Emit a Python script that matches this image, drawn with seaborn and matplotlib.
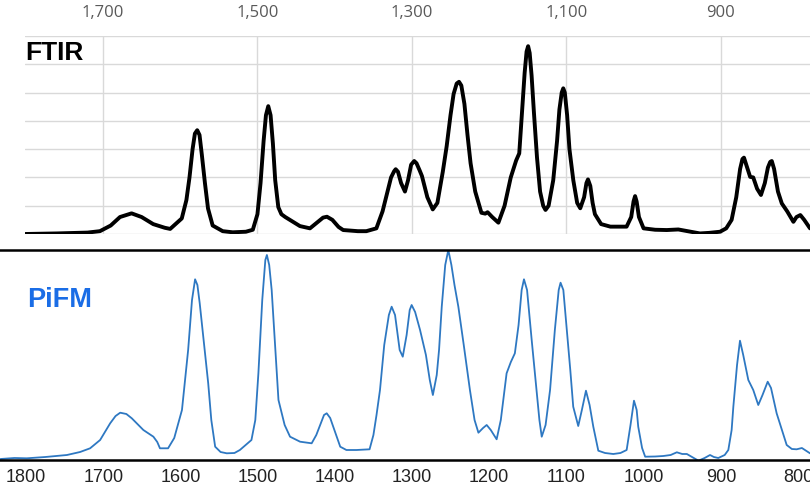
import numpy as np
import pandas as pd
import matplotlib
matplotlib.use("Agg")
import matplotlib.pyplot as plt
import seaborn as sns

# FTIR spectrum (wavenumber, absorbance in grid units)
ftir_wn = [1801, 1760, 1720, 1704, 1690, 1678, 1663, 1650, 1635, 1620, 1613, 1604, 1598,
           1592, 1588, 1584, 1581, 1578, 1575, 1572, 1568, 1564, 1558, 1545, 1532, 1515,
           1506, 1500, 1496, 1492, 1489, 1486, 1483, 1480, 1477, 1473, 1469, 1464, 1458,
           1445, 1432, 1423, 1415, 1410, 1403, 1395, 1389, 1370, 1359, 1346, 1338, 1333,
           1327, 1323, 1321, 1318, 1314, 1309, 1305, 1301, 1297, 1294, 1290, 1287, 1280,
           1273, 1267, 1260, 1255, 1250, 1246, 1242, 1239, 1236, 1232, 1228, 1224, 1218,
           1210, 1205, 1202, 1196, 1188, 1180, 1172, 1165, 1161, 1157, 1154, 1151.5, 1149.5,
           1147.5, 1145, 1142, 1138, 1134, 1130, 1127, 1123, 1117, 1112, 1109, 1106, 1104,
           1102, 1099, 1096, 1091, 1086, 1082, 1077, 1074, 1072, 1069, 1066, 1063, 1055,
           1043, 1022, 1016, 1013, 1011, 1009, 1006, 1000, 985, 970, 955, 945, 927, 915,
           901, 893, 886, 880, 875, 872, 870, 867, 862, 858, 853, 848, 843, 839, 836, 834,
           831, 826, 821, 814, 806, 802, 797, 792, 784.5]
ftir_abs = [0.0, 0.02, 0.05, 0.1, 0.3, 0.6, 0.73, 0.6, 0.35, 0.22, 0.18, 0.4, 0.55,
            1.2, 2.0, 3.0, 3.55, 3.67, 3.5, 2.8, 1.8, 0.9, 0.3, 0.1, 0.06, 0.08,
            0.15, 0.7, 1.8, 3.3, 4.2, 4.52, 4.2, 3.2, 1.9, 0.95, 0.7, 0.6, 0.5,
            0.28, 0.2, 0.4, 0.58, 0.61, 0.5, 0.25, 0.14, 0.1, 0.1, 0.2, 0.8, 1.35,
            2.0, 2.22, 2.29, 2.2, 1.8, 1.5, 1.9, 2.45, 2.58, 2.5, 2.25, 2.05, 1.3,
            0.87, 1.1, 2.2, 3.1, 4.2, 4.95, 5.32, 5.38, 5.25, 4.6, 3.5, 2.5, 1.5,
            0.75, 0.72, 0.77, 0.6, 0.4, 1.0, 2.0, 2.6, 2.85, 4.5, 5.7, 6.45, 6.64,
            6.4, 5.6, 4.3, 2.7, 1.5, 1.0, 0.85, 1.0, 1.9, 3.3, 4.4, 5.0, 5.15,
            5.0, 4.2, 3.0, 1.9, 1.1, 0.91, 1.3, 1.8, 1.93, 1.7, 1.1, 0.7, 0.35,
            0.26, 0.26, 0.6, 1.15, 1.34, 1.15, 0.6, 0.2, 0.15, 0.14, 0.16, 0.11, 0.02, 0.04,
            0.08, 0.2, 0.5, 1.3, 2.3, 2.65, 2.7, 2.45, 2.02, 2.0, 1.6, 1.38, 1.8, 2.35, 2.55, 2.58,
            2.3, 1.5, 1.08, 0.8, 0.43, 0.6, 0.67, 0.5, 0.2]

# PiFM spectrum (wavenumber, signal in arbitrary units)
pifm_wn = [1833, 1815, 1799, 1775, 1747, 1730, 1717, 1704, 1691, 1684, 1678, 1670, 1663,
           1648, 1635, 1630, 1626.5, 1616, 1608, 1598, 1590, 1585, 1581, 1578, 1575, 1570,
           1564, 1560, 1555, 1548, 1540, 1530, 1523, 1508, 1503, 1499, 1494, 1490, 1488,
           1485, 1481.8, 1477, 1473, 1465, 1458, 1445, 1430, 1424, 1419, 1414, 1410.5,
           1406, 1402, 1393, 1385, 1372, 1355, 1350, 1346, 1341.5, 1336, 1330, 1326.4,
           1322, 1316, 1312, 1307, 1303, 1300.5, 1296, 1289.6, 1282, 1277, 1273, 1268,
           1265, 1261.5, 1257, 1253, 1249, 1245, 1240, 1233, 1225, 1219, 1214, 1208,
           1203.3, 1198, 1190.4, 1185, 1177.5, 1172, 1166.8, 1162, 1158, 1155, 1151, 1145,
           1140, 1135, 1132, 1127, 1121.2, 1115, 1110, 1107.6, 1104, 1099.8, 1095, 1091.2,
           1084.7, 1080, 1074.7, 1070, 1065.2, 1058.7, 1050, 1039.3, 1030, 1022, 1017,
           1012.5, 1009, 1007, 1002, 998, 985, 974.5, 965, 957, 950, 944, 935, 929, 921,
           914, 909, 903.3, 895, 890.3, 886, 883.8, 879, 875.2, 871, 864.4, 858, 851.5,
           846, 839.3, 835, 827.7, 820, 814.7, 808, 801.8, 795, 784.5]
pifm_sig = [1, 2, 1.7, 3, 5, 8, 11.7, 20, 36.7, 44, 47.3, 46, 41.7,
            30, 23.3, 18, 11.7, 11.7, 22, 50, 110, 160, 180.7, 175, 156.7, 120,
            76.7, 40, 13.3, 8, 6.7, 7, 10, 20, 40, 86.7, 160, 200, 205,
            195, 170, 110, 60, 35, 23.3, 18.3, 16.7, 25, 35, 45, 46.7,
            42, 33.3, 13.3, 10, 10, 10.7, 25, 45, 70, 115, 145, 153.3,
            145, 110, 103.3, 125, 150, 155, 148, 130, 105, 80, 65, 85,
            110, 153.3, 195, 210, 195, 175, 153.3, 115, 70, 40, 27.3, 32,
            35, 30, 20.7, 40, 86.7, 98, 106.7, 135, 170, 180.7, 170, 120,
            80, 40, 23.3, 35, 70, 130, 170, 177.3, 170, 133.3, 90, 53.3,
            34, 50, 69.3, 55, 33.3, 9.3, 7, 6, 7, 10, 35,
            59.3, 50, 33.3, 12, 3.3, 3.5, 4, 5, 7.7, 6, 6, 2, -0.7, 2,
            5, 3, 2, 5, 10, 30, 53.3, 95, 119.3, 105, 80, 70, 55,
            65, 78.3, 72, 46.7, 28, 15, 11, 10.7, 12, 6.7]

top_ticks = [1700, 1500, 1300, 1100, 900]
bottom_ticks = [1800, 1700, 1600, 1500, 1400, 1300, 1200, 1100, 1000, 900, 800]

ftir = pd.DataFrame({"wn": ftir_wn, "abs": ftir_abs})
pifm = pd.DataFrame({"wn": pifm_wn, "sig": pifm_sig})

sns.set_style("white")
plt.rcParams["font.family"] = ["Liberation Sans", "DejaVu Sans"]

fig = plt.figure(figsize=(8.1, 4.9), dpi=100)
W, H = 810, 490

# upper panel: FTIR
ax1 = fig.add_axes([25 / W, 1 - 234 / H, 1 - 25 / W, (234 - 36) / H])
sns.lineplot(data=ftir, x="wn", y="abs", ax=ax1, color="black", linewidth=2.8, zorder=3)
ax1.set_xlim(1801, 784.5)
ax1.set_ylim(0, 7)
ax1.set_yticks(range(8))
ax1.set_yticklabels([])
ax1.set_xticks(top_ticks)
ax1.set_xticklabels([f"{t:,}" for t in top_ticks], fontfamily="Open Sans",
                    fontsize=12, color="#595959")
ax1.xaxis.tick_top()
ax1.tick_params(axis="x", length=0, pad=11)
ax1.tick_params(axis="y", length=0)
ax1.grid(True, color="#d9d9d9", linewidth=1)
for s in ax1.spines.values():
    s.set_visible(False)
ax1.set_xlabel("")
ax1.set_ylabel("")

# lower panel: PiFM
ax2 = fig.add_axes([0, 1 - 460 / H, 1, (460 - 250) / H])
sns.lineplot(data=pifm, x="wn", y="sig", ax=ax2, color="#2e78c2", linewidth=1.3)
ax2.set_xlim(1833.7, 784.5)
ax2.set_ylim(0, 210)
ax2.set_yticks([])
ax2.set_xticks(bottom_ticks)
ax2.set_xticklabels([str(t) for t in bottom_ticks], fontsize=13, color="#222222")
ax2.tick_params(axis="x", direction="out", length=4.5, width=1.5, pad=2, color="black")
for side in ["left", "right"]:
    ax2.spines[side].set_visible(False)
for side in ["top", "bottom"]:
    ax2.spines[side].set_linewidth(1.8)
    ax2.spines[side].set_color("black")
ax2.set_xlabel("")
ax2.set_ylabel("")

fig.text(25 / W, 1 - 60 / H, "FTIR", fontsize=19, fontweight="bold",
         color="black", va="baseline", ha="left")
fig.text(27 / W, 1 - 307 / H, "PiFM", fontsize=19.5, fontweight="bold",
         color="#1a6de6", va="baseline", ha="left")

fig.savefig("out.png", dpi=100)
